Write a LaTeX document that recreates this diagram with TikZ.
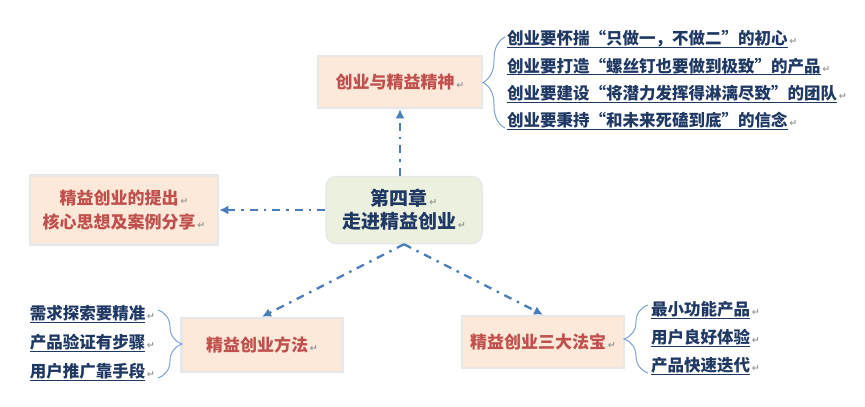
\documentclass[tikz,border=0pt]{standalone}
\usepackage{fontspec}
\usepackage{xcolor}
\usepackage{tikz}
\usetikzlibrary{arrows.meta,positioning,decorations.pathreplacing}
\newfontfamily\cjk{Noto Sans CJK SC}
\newfontfamily\dvs{DejaVu Sans}
\definecolor{redt}{HTML}{C0504D}
\definecolor{navyt}{HTML}{1F3864}
\definecolor{bluel}{HTML}{4A7EBB}
\definecolor{braceb}{HTML}{7FA2D3}
\definecolor{peach}{HTML}{FDE9D9}
\definecolor{olive}{HTML}{EBF1DE}
\definecolor{rim}{HTML}{E8E8E8}
\newcommand{\pmark}{{\dvs\fontsize{9.5}{9.5}\selectfont\color{gray!80}\,↵}}
\newcommand{\ulx}[1]{\setbox0\hbox{#1}\rlap{\rule[-3.2pt]{\wd0}{1.1pt}}\box0}
\tikzset{
  tp/.style={draw=rim,line width=2.5pt,fill=peach,text=redt,align=center,inner sep=0pt,
    font=\cjk\bfseries\fontsize{17}{24}\selectfont},
  hub/.style={draw=rim,line width=1.5pt,fill=olive,rounded corners=10pt,text=navyt,align=center,
    font=\cjk\bfseries\fontsize{19}{23}\selectfont,minimum width=156pt,minimum height=67pt,inner sep=0pt},
  it/.style={text=navyt,inner sep=0pt,font=\cjk\bfseries\fontsize{16.5}{16.5}\selectfont},
  ar/.style={-{Latex[length=9pt,width=9pt]},line width=2.3pt,bluel,dash pattern=on 8pt off 6pt on 2.5pt off 6pt},
  br/.style={decorate,decoration={brace,amplitude=#1},braceb,line width=1pt}
}

\begin{document}
\begin{tikzpicture}[x=1pt,y=-1pt]
\useasboundingbox (0,0) rectangle (865,407);
% boxes
\node[hub] (zhang) at (404,210) {第四章\pmark\\走进精益创业\pmark};
\node[tp,minimum width=164pt,minimum height=52pt] (jing) at (400,82) {创业与精益精神\pmark};
\node[tp,minimum width=188pt,minimum height=69pt] (tichu) at (124,210) {精益创业的提出\pmark\\核心思想及案例分享\pmark};
\node[tp,minimum width=161pt,minimum height=54pt] (fangfa) at (262,345) {精益创业方法\pmark};
\node[tp,minimum width=162pt,minimum height=52pt] (fabao) at (543,342) {精益创业三大法宝\pmark};
% arrows
\draw[ar] (jing.south |- zhang.north) -- (jing.south);
\draw[ar] (zhang.west) -- (tichu.east);
\draw[ar] (zhang.south) -- (fangfa.north);
\draw[ar] (zhang.south) -- (fabao.north);
% lists
\foreach \t [count=\i] in {{创业要怀揣“只做一，不做二”的初心},{创业要打造“螺丝钉也要做到极致”的产品},{创业要建设“将潜力发挥得淋漓尽致”的团队},{创业要秉持“和未来死磕到底”的信念}}
  \node[it,anchor=west] (up\i) at (507,{12+27.3*\i}) {\ulx{\t}\pmark};
\foreach \t [count=\i] in {需求探索要精准,产品验证有步骤,用户推广靠手段}
  \node[it,anchor=east] (lf\i) at (155,{285+29*\i}) {\ulx{\t}\pmark};
\foreach \t [count=\i] in {最小功能产品,用户良好体验,产品快速迭代}
  \node[it,anchor=west] (rt\i) at (651,{282+28*\i}) {\ulx{\t}\pmark};
% braces
\coordinate (ua) at (505,128);
\coordinate (ub) at (505,37);
\draw[br=22pt] (ua) -- (ub);
\coordinate (la) at (158,310);
\coordinate (lb) at (158,378);
\draw[br=24pt] (la) -- (lb);
\coordinate (ra) at (648,373);
\coordinate (rb) at (648,305);
\draw[br=24pt] (ra) -- (rb);
\end{tikzpicture}
\end{document}
